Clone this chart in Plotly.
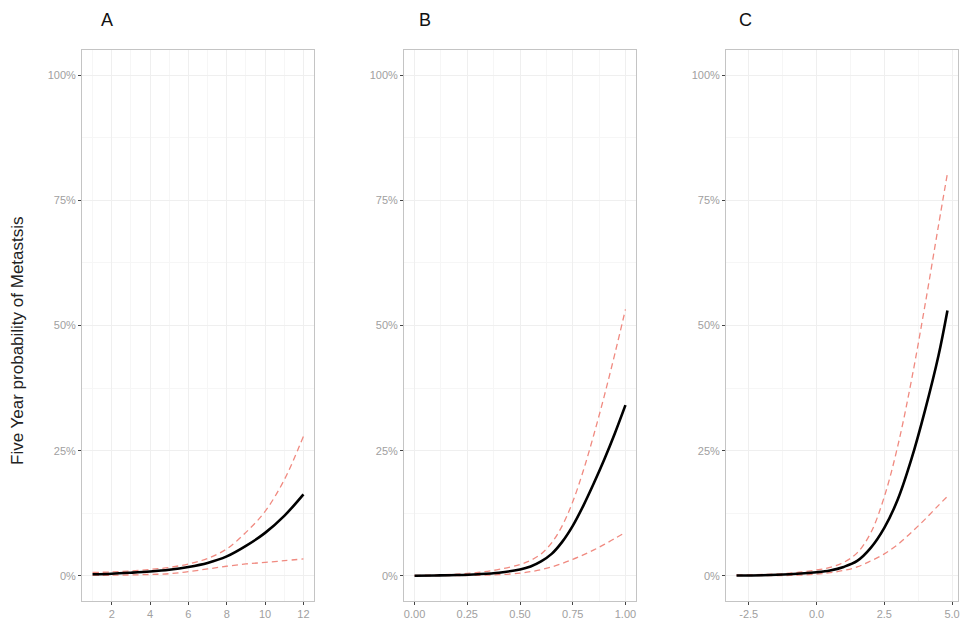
import plotly.graph_objects as go

# Panel A: predictor on a 1-12 scale
a_x = [1, 2, 3, 4, 5, 6, 7, 8, 9, 10, 11, 12]
a_fit = [0.35, 0.45, 0.65, 0.9, 1.25, 1.8, 2.6, 3.9, 6.0, 8.6, 12.0, 16.3]
a_upper = [0.7, 0.8, 1.0, 1.3, 1.7, 2.4, 3.5, 5.4, 8.7, 12.9, 19.2, 27.9]
a_lower = [0.1, 0.15, 0.2, 0.3, 0.45, 0.85, 1.4, 1.95, 2.4, 2.7, 3.05, 3.4]

# Panel B: predictor on a 0-1 scale
b_x = [0.0, 0.1, 0.2, 0.3, 0.4, 0.5, 0.55, 0.6, 0.65, 0.7, 0.75, 0.8, 0.85, 0.9, 0.95, 1.0]
b_fit = [0.05, 0.1, 0.18, 0.35, 0.65, 1.3, 1.9, 2.9, 4.4, 6.8, 10.0, 14.0, 18.5, 23.3, 28.5, 34.1]
b_upper = [0.1, 0.2, 0.35, 0.7, 1.3, 2.3, 3.1, 4.4, 6.6, 10.0, 14.8, 21.0, 28.2, 36.0, 44.4, 53.2]
b_lower = [0.02, 0.04, 0.07, 0.12, 0.25, 0.55, 0.85, 1.25, 1.8, 2.5, 3.3, 4.2, 5.2, 6.3, 7.5, 8.7]

# Panel C: predictor on a standardised scale
c_x = [-2.95, -2.0, -1.0, 0.0, 0.5, 1.0, 1.5, 2.0, 2.5, 3.0, 3.5, 4.0, 4.5, 4.83]
c_fit = [0.1, 0.15, 0.35, 0.75, 1.1, 1.8, 3.0, 5.6, 9.6, 15.3, 23.3, 33.0, 44.0, 53.0]
c_upper = [0.2, 0.3, 0.55, 1.2, 1.7, 2.7, 4.6, 8.6, 15.8, 26.0, 39.0, 54.0, 70.0, 80.4]
c_lower = [0.05, 0.05, 0.1, 0.35, 0.65, 1.1, 1.8, 3.0, 4.4, 6.3, 8.7, 11.3, 14.1, 15.9]

panel_labels = ["A", "B", "C"]
y_ticks = [0, 0.25, 0.5, 0.75, 1.0]
y_title = "Five Year probability of Metastsis"

W, H = 963, 629
FIT_COLOR = "#000000"
CI_COLOR = "#F08A80"
GRID = "#efefef"
BORDER = "#c4c4c4"
TICKFONT = dict(family="Liberation Sans, Arial, sans-serif", size=11, color="#a0a0a0")

panels = [
    dict(x=a_x, fit=a_fit, up=a_upper, lo=a_lower, px=(82, 314),
         ticks=[2, 4, 6, 8, 10, 12], ticktext=["2", "4", "6", "8", "10", "12"], minor=1),
    dict(x=b_x, fit=b_fit, up=b_upper, lo=b_lower, px=(404, 636),
         ticks=[0, 0.25, 0.5, 0.75, 1.0], ticktext=["0.00", "0.25", "0.50", "0.75", "1.00"], minor=0.125),
    dict(x=c_x, fit=c_fit, up=c_upper, lo=c_lower, px=(726, 958),
         ticks=[-2.5, 0, 2.5, 5.0], ticktext=["-2.5", "0.0", "2.5", "5.0"], minor=1.25),
]

fig = go.Figure()
y_top, y_bot = 50, 601
ydom = [(H - y_bot) / H, (H - y_top) / H]

for i, p in enumerate(panels, start=1):
    xa = "x" if i == 1 else f"x{i}"
    ya = "y" if i == 1 else f"y{i}"
    xmin, xmax = min(p["x"]), max(p["x"])
    pad = 0.05 * (xmax - xmin)
    for key, color, width, dash in [("up", CI_COLOR, 1.3, "6px,4px"),
                                    ("lo", CI_COLOR, 1.3, "6px,4px"),
                                    ("fit", FIT_COLOR, 2.6, "solid")]:
        fig.add_trace(go.Scatter(
            x=p["x"], y=[v / 100 for v in p[key]], mode="lines",
            line=dict(color=color, width=width, dash=dash, shape="spline", smoothing=1.0),
            xaxis=xa, yaxis=ya, showlegend=False, hoverinfo="skip"))

    xkey = "xaxis" if i == 1 else f"xaxis{i}"
    ykey = "yaxis" if i == 1 else f"yaxis{i}"
    fig.update_layout({
        xkey: dict(
            domain=[p["px"][0] / W, p["px"][1] / W], anchor=ya,
            range=[xmin - pad, xmax + pad],
            tickmode="array", tickvals=p["ticks"], ticktext=p["ticktext"],
            ticks="outside", ticklen=3, tickwidth=1, tickcolor="#444444",
            tickfont=TICKFONT, showgrid=True, gridcolor=GRID, gridwidth=1,
            minor=dict(dtick=p["minor"], tick0=0, showgrid=True, gridcolor="#f6f6f6", gridwidth=0.6),
            showline=True, linecolor=BORDER, linewidth=1, mirror=True,
            zeroline=False, automargin=False),
        ykey: dict(
            domain=ydom, anchor=xa, range=[-0.05, 1.05],
            tickmode="array", tickvals=y_ticks, tickformat=".0%",
            ticks="outside", ticklen=3, tickwidth=1, tickcolor="#444444",
            tickfont=TICKFONT, showgrid=True, gridcolor=GRID, gridwidth=1,
            minor=dict(dtick=0.125, tick0=0, showgrid=True, gridcolor="#f6f6f6", gridwidth=0.6),
            showline=True, linecolor=BORDER, linewidth=1, mirror=True,
            zeroline=False, automargin=False),
    })

# Panel letters
for lbl, xpx in zip(panel_labels, [107, 425, 745]):
    fig.add_annotation(text=lbl, x=xpx / W, y=(H - 20) / H, xref="paper", yref="paper",
                       showarrow=False, xanchor="center", yanchor="middle",
                       font=dict(family="Liberation Sans, Arial, sans-serif", size=18, color="#111111"))

# Shared y-axis title
fig.add_annotation(text=y_title, x=18 / W, y=(H - 341) / H, xref="paper", yref="paper",
                   showarrow=False, textangle=-90, xanchor="center", yanchor="middle",
                   font=dict(family="Liberation Sans, Arial, sans-serif", size=17, color="#222222"))

fig.update_layout(
    width=W, height=H, margin=dict(l=0, r=0, t=0, b=0),
    paper_bgcolor="white", plot_bgcolor="white", showlegend=False)

fig.write_html("out.html")
